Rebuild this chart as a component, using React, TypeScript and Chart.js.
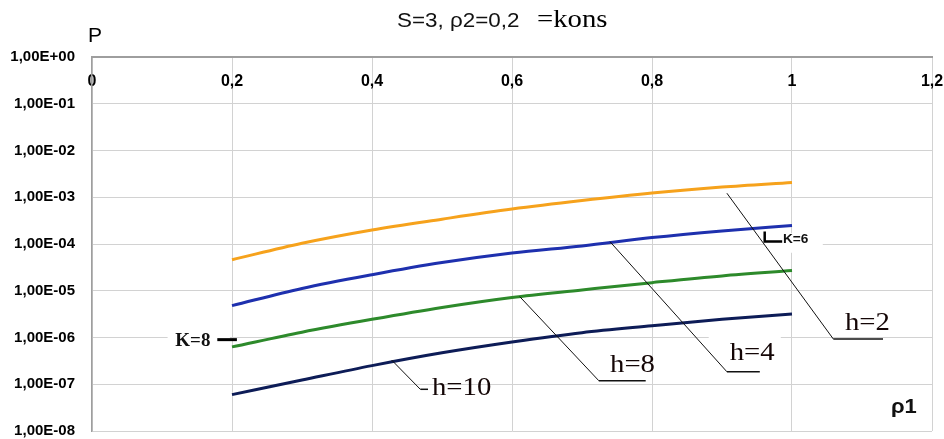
import { useEffect, useRef } from 'react';
import { Chart, registerables } from 'chart.js';

Chart.register(...registerables);

// ---- data ----
const rho1 = [0.2, 0.3, 0.4, 0.5, 0.6, 0.7, 0.8, 0.9, 1.0];
const pH2 = [4.6e-5, 1.04e-4, 2.0e-4, 3.4e-4, 5.6e-4, 8.5e-4, 1.23e-3, 1.65e-3, 2.07e-3];
const pH4 = [4.8e-6, 1.12e-5, 2.2e-5, 4.0e-5, 6.4e-5, 9.1e-5, 1.37e-4, 1.9e-4, 2.5e-4];
const pH8 = [6.3e-7, 1.3e-6, 2.45e-6, 4.4e-6, 7.2e-6, 1.04e-5, 1.49e-5, 2.08e-5, 2.7e-5];
const pH10 = [6.0e-8, 1.23e-7, 2.5e-7, 4.7e-7, 8.0e-7, 1.27e-6, 1.78e-6, 2.45e-6, 3.2e-6];
const seriesValues = [pH2, pH4, pH8, pH10];
const seriesLabels = ['h=2', 'h=4', 'h=8', 'h=10'];
const seriesColors = ['#F6A21C', '#1E30AE', '#2D8A2B', '#0D1C57'];

const xMin = 0;
const xMax = 1.2;
const xStep = 0.2;
const yExponents = [0, -1, -2, -3, -4, -5, -6, -7, -8];

const titleMain = 'S=3, ρ2=0,2';
const titleTail = '=kons';
const yAxisTitle = 'P';
const xAxisTitle = 'ρ1';

// callouts (data coordinates: [rho1, P])
const calloutLeaders: [number, number][][] = [
  [[0.907, 1.22e-3], [1.059, 9.3e-7], [1.13, 9.3e-7]],
  [[0.74, 1.12e-4], [0.907, 1.85e-7], [0.954, 1.85e-7]],
  [[0.611, 7.5e-6], [0.724, 1.19e-7], [0.791, 1.19e-7]],
  [[0.428, 3.3e-7], [0.469, 7.8e-8], [0.48, 7.8e-8]],
];
const calloutTextAt: [number, number][] = [
  [1.0757, 1.44e-6],
  [0.911, 3.3e-7],
  [0.74, 1.85e-7],
  [0.4857, 5.9e-8],
];
const kLabels = ['K=6', 'K=8'];
const k6Bracket: [number, number][] = [[0.961, 1.85e-4], [0.961, 1.13e-4], [0.986, 1.13e-4]];
const k6TextAt: [number, number] = [0.987, 1.05e-4];
const k8Dash: [number, number][] = [[0.179, 9.0e-7], [0.207, 9.0e-7]];
const k8TextAt: [number, number] = [0.119, 6.6e-7];
const whiteBoxes: [number, number, number, number][] = [
  [0.108, 0.197, 1.6e-6, 4.9e-7],
  [0.881, 0.984, 1.45e-6, 2.45e-7],
  [0.96, 1.044, 1.7e-4, 6.5e-5],
];

function fmtY(v: number) {
  const e = Math.round(Math.log10(v));
  const sign = e < 0 ? '-' : '+';
  return '1,00E' + sign + String(Math.abs(e)).padStart(2, '0');
}

function fmtX(v: number) {
  return String(Number(v.toFixed(1))).replace('.', ',');
}

function drawText(ctx: CanvasRenderingContext2D, text: string, x: number, y: number, font: string, sx = 1, color = '#000') {
  ctx.save();
  ctx.font = font;
  ctx.fillStyle = color;
  ctx.textBaseline = 'alphabetic';
  ctx.textAlign = 'left';
  ctx.translate(x, y);
  ctx.scale(sx, 1);
  ctx.fillText(text, 0, 0);
  ctx.restore();
}

const decorPlugin = {
  id: 'decor',
  beforeDatasetsDraw(chart: any) {
    const ctx = chart.ctx as CanvasRenderingContext2D;
    const xs = chart.scales.x;
    const ys = chart.scales.y;
    ctx.save();
    ctx.fillStyle = '#ffffff';
    whiteBoxes.forEach(([x0, x1, y0, y1]) => {
      const l = xs.getPixelForValue(x0);
      const r = xs.getPixelForValue(x1);
      const t = ys.getPixelForValue(y0);
      const b = ys.getPixelForValue(y1);
      ctx.fillRect(l, t, r - l, b - t);
    });
    ctx.restore();
  },
  afterDatasetsDraw(chart: any) {
    const ctx = chart.ctx as CanvasRenderingContext2D;
    const xs = chart.scales.x;
    const ys = chart.scales.y;
    const P = (p: [number, number]) => [xs.getPixelForValue(p[0]), ys.getPixelForValue(p[1])];

    // leaders
    ctx.save();
    ctx.strokeStyle = '#111';
    calloutLeaders.forEach((pts) => {
      ctx.lineWidth = 1;
      ctx.beginPath();
      const [sx0, sy0] = P(pts[0]);
      const [sx1, sy1] = P(pts[1]);
      ctx.moveTo(sx0, sy0);
      ctx.lineTo(sx1, sy1);
      ctx.stroke();
      const [bx, by] = P(pts[2]);
      ctx.lineWidth = 1.5;
      ctx.beginPath();
      ctx.moveTo(sx1, sy1);
      ctx.lineTo(bx, by);
      ctx.stroke();
    });
    ctx.restore();

    seriesLabels.forEach((lab, i) => {
      const [x, y] = P(calloutTextAt[i]);
      drawText(ctx, lab, x, y, '25px "Liberation Serif"', 1.15, '#140606');
    });

    // K=6 bracket
    ctx.save();
    ctx.strokeStyle = '#000';
    ctx.lineWidth = 2.5;
    ctx.beginPath();
    k6Bracket.forEach((p, i) => {
      const [x, y] = P(p);
      if (i === 0) ctx.moveTo(x, y);
      else ctx.lineTo(x, y);
    });
    ctx.stroke();
    // K=8 dash
    ctx.lineWidth = 3;
    ctx.beginPath();
    k8Dash.forEach((p, i) => {
      const [x, y] = P(p);
      if (i === 0) ctx.moveTo(x, y);
      else ctx.lineTo(x, y);
    });
    ctx.stroke();
    ctx.restore();
    {
      const [x, y] = P(k6TextAt);
      drawText(ctx, kLabels[0], x, y, 'bold 13px "Liberation Sans"', 1.05, '#111');
    }
    {
      const [x, y] = P(k8TextAt);
      drawText(ctx, kLabels[1], x, y, 'bold 19px "Liberation Serif"', 1, '#111');
    }
  },
  afterDraw(chart: any) {
    const ctx = chart.ctx as CanvasRenderingContext2D;
    drawText(ctx, titleMain, 397, 27, '20px "Liberation Sans"', 1.12, '#111');
    drawText(ctx, titleTail, 537, 27, '25px "Liberation Serif"', 1.15, '#000');
    drawText(ctx, yAxisTitle, 88, 42, '21px "Liberation Sans"', 1, '#000');
    drawText(ctx, xAxisTitle, 891, 413, 'bold 20px "Liberation Sans"', 1.1, '#111');
  },
};

export default function App() {
  const ref = useRef<HTMLCanvasElement | null>(null);
  useEffect(() => {
    if (!ref.current) return;
    const chart = new Chart(ref.current, {
      type: 'line',
      data: {
        datasets: seriesValues.map((vals, i) => ({
          label: seriesLabels[i],
          data: rho1.map((x, j) => ({ x, y: vals[j] })),
          borderColor: seriesColors[i],
          backgroundColor: seriesColors[i],
          borderWidth: 3,
          pointRadius: 0,
          cubicInterpolationMode: 'monotone' as const,
          fill: false,
        })),
      },
      options: {
        responsive: false,
        animation: false,
        layout: { padding: { top: 57, right: 12, bottom: 8, left: 0 } },
        plugins: {
          legend: { display: false },
          title: { display: false },
          tooltip: { enabled: false },
        },
        scales: {
          x: {
            type: 'linear',
            min: xMin,
            max: xMax,
            position: { y: 1 } as any,
            ticks: {
              stepSize: xStep,
              color: '#000',
              padding: 15,
              font: { family: '"Liberation Sans"', size: 16, weight: 'bold' },
              callback: (v: any) => fmtX(Number(v)),
            },
            grid: { color: '#d2d2d2', lineWidth: 1, drawTicks: false },
            border: { color: '#9e9e9e', width: 2 },
            afterFit: (s: any) => {
              s.paddingLeft = 0;
              s.paddingRight = 0;
              s.paddingTop = 0;
              s.paddingBottom = 0;
            },
          },
          y: {
            type: 'logarithmic',
            min: 1e-8,
            max: 1,
            afterBuildTicks: (s: any) => {
              s.ticks = yExponents.map((e) => ({ value: Math.pow(10, e) }));
            },
            ticks: {
              color: '#000',
              padding: 17,
              autoSkip: false,
              font: { family: '"Liberation Sans"', size: 15, weight: 'bold' },
              callback: (v: any) => fmtY(Number(v)),
            },
            grid: { color: '#d2d2d2', lineWidth: 1, drawTicks: false },
            border: { color: '#9e9e9e', width: 1.5 },
            afterFit: (s: any) => {
              s.width = 92;
              s.paddingTop = 0;
              s.paddingBottom = 0;
              s.paddingLeft = 0;
              s.paddingRight = 0;
            },
          },
        },
      },
      plugins: [decorPlugin],
    });
    return () => chart.destroy();
  }, []);
  return (
    <div style={{ position: 'fixed', left: 0, top: 0, width: 944, height: 439, background: '#fff' }}>
      <canvas ref={ref} width={944} height={439} style={{ display: 'block' }} />
    </div>
  );
}
